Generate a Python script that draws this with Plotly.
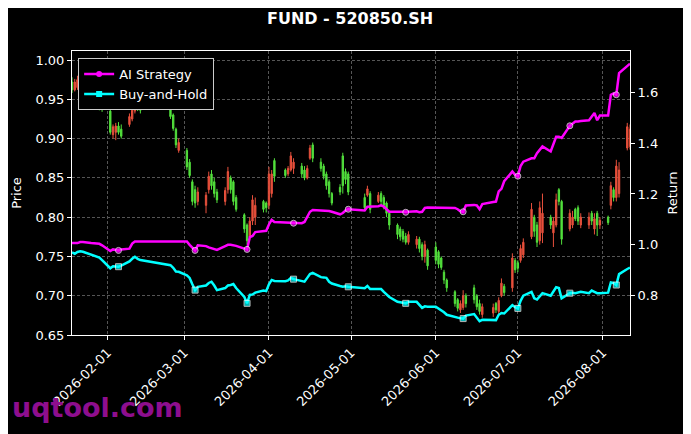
import plotly.graph_objects as go
import pandas as pd

# trading days (Shanghai exchange, 2026 holidays removed)
holidays = ["2026-02-16", "2026-02-17", "2026-02-18", "2026-02-19", "2026-02-20",
            "2026-02-23", "2026-04-06", "2026-05-01", "2026-05-04", "2026-05-05",
            "2026-06-19"]
dates = pd.bdate_range("2026-01-19", "2026-08-11")
dates = dates[~dates.isin(pd.to_datetime(holidays))]

open_ = [
    0.972, 0.962, 0.965, 0.975, 0.968, 0.962, 0.955, 0.960, 0.952, 0.945,
    0.935, 0.905, 0.908, 0.916, 0.912, 0.918, 0.925, 0.935, 0.948, 0.942, 0.945, 0.930, 0.912, 0.885,
    0.885, 0.870, 0.845, 0.835, 0.820, 0.815, 0.835, 0.855, 0.845, 0.832, 0.820, 0.835, 0.850, 0.845, 0.825,
    0.803, 0.790, 0.775, 0.795, 0.800, 0.820, 0.818,
    0.815, 0.830, 0.872, 0.860, 0.855, 0.860, 0.862, 0.865, 0.860, 0.850, 0.875, 0.892, 0.870, 0.865, 0.855,
    0.845, 0.830, 0.838, 0.878, 0.858, 0.855,
    0.825, 0.828, 0.830, 0.820, 0.830, 0.825, 0.818, 0.805, 0.790, 0.785, 0.782, 0.776, 0.768, 0.765, 0.772,
    0.765, 0.750, 0.758,
    0.762, 0.756, 0.748, 0.730, 0.720, 0.705, 0.695, 0.682, 0.685, 0.700, 0.710, 0.700, 0.690, 0.676, 0.678,
    0.690, 0.680, 0.700, 0.712, 0.710, 0.745,
    0.742, 0.745, 0.752, 0.775, 0.800, 0.790, 0.770, 0.780, 0.800, 0.780, 0.790, 0.835, 0.820, 0.785, 0.790,
    0.810, 0.812, 0.790, 0.790, 0.805, 0.785, 0.805, 0.790,
    0.800, 0.815, 0.835, 0.825, 0.830, 0.888, 0.890,
]
high = [
    0.978, 0.976, 0.980, 0.978, 0.972, 0.968, 0.965, 0.962, 0.955, 0.948,
    0.937, 0.918, 0.920, 0.921, 0.918, 0.932, 0.940, 0.952, 0.950, 0.945, 0.948, 0.932, 0.914, 0.900,
    0.888, 0.874, 0.848, 0.840, 0.838, 0.832, 0.858, 0.860, 0.850, 0.836, 0.838, 0.864, 0.853, 0.847, 0.828,
    0.805, 0.792, 0.800, 0.828, 0.825, 0.822, 0.820,
    0.864, 0.860, 0.875, 0.862, 0.865, 0.883, 0.875, 0.869, 0.865, 0.866, 0.892, 0.895, 0.875, 0.868, 0.858,
    0.848, 0.832, 0.842, 0.882, 0.862, 0.858,
    0.830, 0.840, 0.833, 0.832, 0.833, 0.828, 0.820, 0.807, 0.792, 0.788, 0.785, 0.780, 0.782, 0.776, 0.775,
    0.768, 0.770, 0.760,
    0.768, 0.758, 0.750, 0.733, 0.722, 0.707, 0.697, 0.694, 0.707, 0.703, 0.714, 0.702, 0.695, 0.690, 0.690,
    0.692, 0.698, 0.722, 0.715, 0.754, 0.748,
    0.745, 0.765, 0.773, 0.818, 0.803, 0.794, 0.820, 0.830, 0.803, 0.800, 0.830, 0.837, 0.822, 0.810, 0.808,
    0.812, 0.815, 0.805, 0.806, 0.808, 0.805, 0.808, 0.800,
    0.802, 0.845, 0.838, 0.873, 0.870, 0.920, 0.918,
]
low = [
    0.958, 0.960, 0.962, 0.962, 0.958, 0.950, 0.952, 0.948, 0.936, 0.934,
    0.905, 0.900, 0.898, 0.905, 0.900, 0.915, 0.922, 0.932, 0.935, 0.932, 0.925, 0.910, 0.888, 0.882,
    0.860, 0.850, 0.815, 0.812, 0.815, 0.805, 0.830, 0.835, 0.825, 0.818, 0.815, 0.830, 0.830, 0.815, 0.807,
    0.780, 0.765, 0.772, 0.790, 0.790, 0.806, 0.806,
    0.810, 0.825, 0.845, 0.850, 0.852, 0.858, 0.855, 0.850, 0.847, 0.848, 0.873, 0.870, 0.858, 0.848, 0.835,
    0.825, 0.815, 0.828, 0.830, 0.842, 0.828,
    0.808, 0.826, 0.805, 0.818, 0.815, 0.810, 0.800, 0.784, 0.772, 0.770, 0.768, 0.765, 0.765, 0.760, 0.755,
    0.745, 0.742, 0.733,
    0.740, 0.735, 0.733, 0.715, 0.705, 0.686, 0.680, 0.678, 0.682, 0.685, 0.690, 0.682, 0.676, 0.672, 0.673,
    0.678, 0.676, 0.698, 0.700, 0.705, 0.729,
    0.730, 0.742, 0.748, 0.772, 0.775, 0.762, 0.765, 0.767, 0.785, 0.762, 0.787, 0.815, 0.765, 0.782, 0.786,
    0.795, 0.790, 0.786, 0.785, 0.790, 0.778, 0.776, 0.785,
    0.790, 0.810, 0.820, 0.820, 0.825, 0.885, 0.886,
]
close = [
    0.962, 0.972, 0.975, 0.966, 0.962, 0.955, 0.960, 0.952, 0.940, 0.938,
    0.908, 0.915, 0.916, 0.908, 0.903, 0.928, 0.936, 0.948, 0.940, 0.936, 0.928, 0.913, 0.892, 0.895,
    0.864, 0.853, 0.820, 0.818, 0.832, 0.828, 0.852, 0.840, 0.830, 0.822, 0.834, 0.858, 0.835, 0.820, 0.810,
    0.785, 0.770, 0.795, 0.822, 0.815, 0.810, 0.812,
    0.855, 0.855, 0.852, 0.853, 0.862, 0.878, 0.870, 0.855, 0.850, 0.862, 0.888, 0.875, 0.862, 0.852, 0.840,
    0.830, 0.818, 0.832, 0.840, 0.848, 0.832,
    0.812, 0.836, 0.810, 0.828, 0.820, 0.815, 0.805, 0.790, 0.778, 0.775, 0.772, 0.768, 0.778, 0.772, 0.760,
    0.750, 0.765, 0.738,
    0.745, 0.740, 0.736, 0.720, 0.710, 0.690, 0.684, 0.690, 0.700, 0.690, 0.695, 0.686, 0.680, 0.686, 0.685,
    0.682, 0.694, 0.716, 0.704, 0.748, 0.733,
    0.735, 0.760, 0.768, 0.810, 0.782, 0.768, 0.812, 0.805, 0.790, 0.795, 0.822, 0.820, 0.772, 0.805, 0.800,
    0.798, 0.795, 0.800, 0.800, 0.795, 0.798, 0.790, 0.796,
    0.793, 0.840, 0.825, 0.865, 0.860, 0.915, 0.912,
]

ai_return = [
    1.007, 1.007, 1.007, 1.011, 1.011, 1.007, 1.006, 1.005, 1.004, 0.998,
    0.976, 0.982, 0.980, 0.978, 0.982, 0.985, 1.005, 1.013, 1.013, 1.013, 1.013, 1.013, 1.012, 1.013,
    1.013, 1.000, 0.990, 0.978, 0.998, 0.995, 0.990, 0.986, 0.982, 0.980, 0.995, 1.000, 1.000, 0.998, 0.996,
    0.985, 0.982, 1.030, 1.035, 1.050, 1.055, 1.055,
    1.080, 1.098, 1.090, 1.088, 1.088, 1.088, 1.085, 1.085, 1.090, 1.110, 1.130, 1.137, 1.135, 1.135, 1.133,
    1.133, 1.130, 1.120, 1.125, 1.135, 1.140,
    1.135, 1.150, 1.150, 1.152, 1.155, 1.150, 1.140, 1.130, 1.130, 1.130, 1.128, 1.128, 1.130, 1.132, 1.128,
    1.130, 1.145, 1.147,
    1.147, 1.147, 1.147, 1.147, 1.147, 1.145, 1.140, 1.132, 1.130, 1.155, 1.157, 1.155, 1.140, 1.160, 1.168,
    1.170, 1.210, 1.220, 1.250, 1.288, 1.275,
    1.270, 1.310, 1.327, 1.340, 1.340, 1.360, 1.375, 1.387, 1.367, 1.400, 1.425, 1.425, 1.420, 1.468, 1.478,
    1.485, 1.485, 1.487, 1.490, 1.505, 1.518, 1.490, 1.508,
    1.508, 1.590, 1.595, 1.590, 1.675, 1.705, 1.712,
]
bh_return = [
    0.970, 0.965, 0.972, 0.975, 0.973, 0.960, 0.958, 0.953, 0.950, 0.940,
    0.908, 0.916, 0.915, 0.914, 0.918, 0.935, 0.945, 0.953, 0.945, 0.940, 0.920, 0.910, 0.895, 0.894,
    0.880, 0.870, 0.845, 0.822, 0.835, 0.840, 0.850, 0.855, 0.840, 0.822, 0.830, 0.840, 0.842, 0.846, 0.830,
    0.795, 0.770, 0.803, 0.805, 0.812, 0.820, 0.818,
    0.845, 0.862, 0.858, 0.857, 0.860, 0.870, 0.865, 0.858, 0.855, 0.870, 0.885, 0.890, 0.873, 0.872, 0.870,
    0.855, 0.848, 0.838, 0.835, 0.837, 0.835,
    0.829, 0.838, 0.826, 0.827, 0.826, 0.815, 0.805, 0.795, 0.776, 0.775, 0.772, 0.770, 0.776, 0.776, 0.765,
    0.752, 0.758, 0.757,
    0.757, 0.750, 0.742, 0.735, 0.725, 0.715, 0.712, 0.711, 0.710, 0.722, 0.728, 0.715, 0.700, 0.705, 0.705,
    0.704, 0.725, 0.732, 0.730, 0.763, 0.755,
    0.750, 0.780, 0.800, 0.815, 0.790, 0.785, 0.800, 0.810, 0.800, 0.815, 0.833, 0.830, 0.790, 0.810, 0.812,
    0.810, 0.812, 0.815, 0.810, 0.820, 0.815, 0.810, 0.810,
    0.812, 0.852, 0.850, 0.842, 0.885, 0.905, 0.910,
]

marker_dates = ["2026-02-05", "2026-03-05", "2026-03-24", "2026-04-10", "2026-04-30",
                "2026-05-21", "2026-06-11", "2026-07-01", "2026-07-20", "2026-08-06"]
tick_dates = ["2026-02-01", "2026-03-01", "2026-04-01", "2026-05-01",
              "2026-06-01", "2026-07-01", "2026-08-01"]

assert len(dates) == len(open_) == len(high) == len(low) == len(close) == len(ai_return) == len(bh_return)

marked = pd.to_datetime(marker_dates)
sizes = [6 if d in marked else 0 for d in dates]

FONT = "DejaVu Sans"
MAGENTA = "#ff00ff"
CYAN = "#00ffff"

fig = go.Figure()
fig.add_trace(go.Candlestick(
    x=dates, open=open_, high=high, low=low, close=close,
    increasing=dict(line=dict(color="#e8503c", width=1), fillcolor="#e8503c"),
    decreasing=dict(line=dict(color="#52e03c", width=1), fillcolor="#52e03c"),
    showlegend=False, name="Price",
))
for name, vals, color, symbol in [("AI Strategy", ai_return, MAGENTA, "circle"),
                                  ("Buy-and-Hold", bh_return, CYAN, "square")]:
    fig.add_trace(go.Scatter(
        x=dates, y=vals, yaxis="y2", name=name, mode="lines+markers",
        line=dict(color=color, width=2.5),
        marker=dict(size=sizes, color=color, symbol=symbol),
        showlegend=False,
    ))
    # legend entry only
    fig.add_trace(go.Scatter(
        x=[None], y=[None], yaxis="y2", name=name, mode="lines+markers",
        line=dict(color=color, width=2.5),
        marker=dict(size=6, color=color, symbol=symbol),
    ))

grid = dict(showgrid=True, gridcolor="#555555", griddash="3px,2px", gridwidth=0.6)
spine = dict(showline=True, linecolor="white", linewidth=1, mirror=True,
             ticks="outside", ticklen=4, tickcolor="white", zeroline=False,
             automargin=False)

# the page body adds 8px, so the margins are shifted by that much
fig.update_layout(
    width=691, height=434,
    paper_bgcolor="black", plot_bgcolor="black",
    font=dict(family=FONT, color="white", size=13),
    margin=dict(l=64, r=69, t=43, b=107),
    title=dict(text="<b>FUND - 520850.SH</b>", x=0.495, xanchor="center",
               y=0.977, yanchor="middle", font=dict(size=16, color="white")),
    xaxis=dict(
        type="date", range=["2026-01-19", "2026-08-11"],
        rangeslider=dict(visible=False),
        tickvals=tick_dates, tickformat="%Y-%m-%d", tickangle=-45,
        tickfont=dict(size=13), **grid, **spine,
    ),
    yaxis=dict(
        range=[0.65, 1.0115], dtick=0.05, tickformat=".2f",
        title=dict(text="Price", font=dict(size=13), standoff=10),
        **grid, **spine,
    ),
    yaxis2=dict(
        overlaying="y", side="right", range=[0.6455, 1.762], dtick=0.2,
        tickformat=".1f", showgrid=False, zeroline=False, automargin=False,
        title=dict(text="Return", font=dict(size=13), standoff=10),
        ticks="outside", ticklen=4, tickcolor="white",
    ),
    legend=dict(
        x=0.011, y=0.975, xanchor="left", yanchor="top",
        bgcolor="black", bordercolor="#cccccc", borderwidth=1,
        font=dict(size=13), tracegroupgap=0,
    ),
    annotations=[dict(
        text="<b>uqtool.com</b>", xref="paper", yref="paper",
        x=-0.111, y=-0.254, xanchor="left", yanchor="middle", showarrow=False,
        font=dict(size=27, color="#8e0e8e", family=FONT),
    )],
)

fig.write_html("out.html")
